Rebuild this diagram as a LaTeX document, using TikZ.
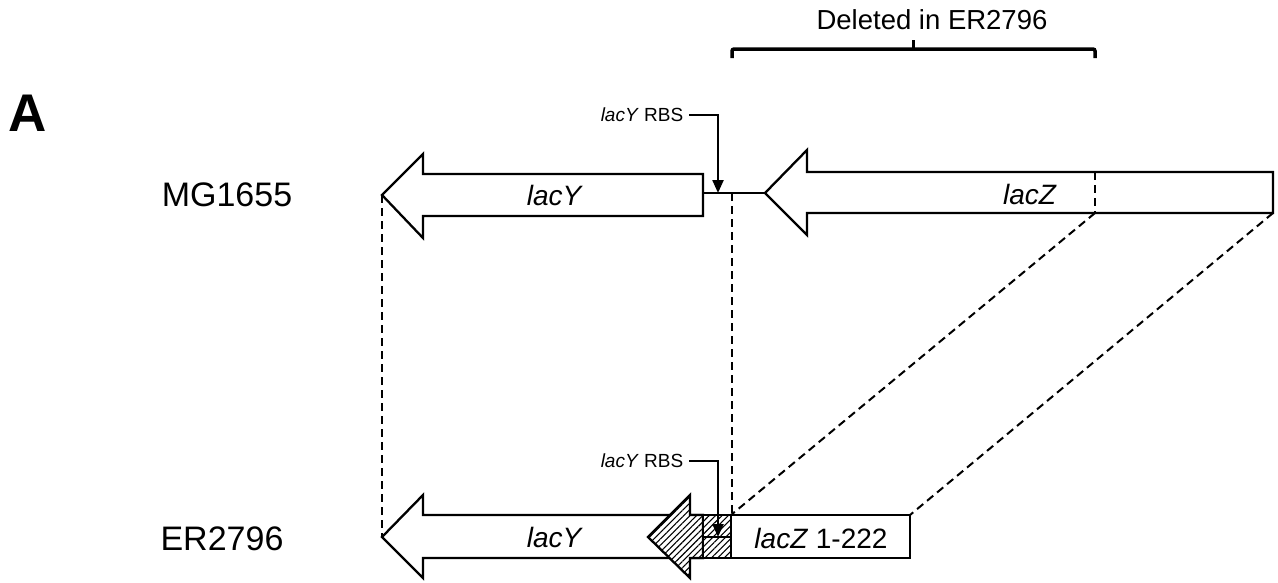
\documentclass[tikz,border=0pt]{standalone}
\usepackage{fontspec}
\setmainfont{Liberation Sans}
\usetikzlibrary{arrows.meta,patterns.meta}

\tikzset{
  gene/.style={draw,line width=2.3pt,fill=white,line join=miter},
  guide/.style={line width=2pt,dash pattern=on 8pt off 5pt},
  hatchbox/.style={draw,line width=2.3pt,fill=white,
    postaction={pattern={Lines[angle=45,distance=4.5pt,line width=1.1pt]}}},
  strain/.style={inner sep=0pt,font=\fontsize{34}{34}\selectfont},
  genename/.style={inner sep=0pt,font=\fontsize{28}{28}\selectfont},
  rbslbl/.style={inner sep=0pt,font=\fontsize{19}{19}\selectfont},
}

\begin{document}
\begin{tikzpicture}[x=1pt,y=-1pt,>={Triangle[length=13pt,width=11pt]}]
\useasboundingbox (0,0) rectangle (1278,582);
%Chu A
\node[inner sep=0pt,font=\fontsize{53}{53}\selectfont\bfseries] (panel) at (28,113) {A};
%Ten chung
\node[strain] (mg) at (227,195) {MG1655};
\node[strain] (er) at (222,539) {ER2796};
%Ngoac tren
\coordinate (brL) at (732,58);
\coordinate (brR) at (1095,58);
\coordinate (brM) at (913,49);
\draw[line width=3.5pt,rounded corners=2pt] (brL) -- (732,49) -- (1095,49) -- (brR);
\draw[line width=3pt] (brM) -- (913,40);
\node[inner sep=0pt,font=\fontsize{27.5}{27.5}\selectfont] (del) at (932,20) {Deleted in ER2796};
%Hang 1: lacY
\coordinate (yTipA) at (382,195);
\draw[gene] (yTipA) -- (423,154) -- (423,174) -- (703,174) -- (703,216) -- (423,216) -- (423,238) -- cycle;
\node[genename] (lacYA) at (555,195) {\textit{lacY}};
%Hang 1: lacZ
\coordinate (yEndA) at (703,193);
\coordinate (zTipA) at (765,193);
\draw[line width=2.3pt] (yEndA) -- (zTipA);
\draw[gene] (zTipA) -- (807,150) -- (807,172) -- (1273,172) -- (1273,213) -- (807,213) -- (807,235) -- cycle;
\coordinate (zCut) at (1095,213);
\coordinate (zEnd) at (1273,213);
\draw[guide] (1095,172) -- (zCut);
\node[genename] (lacZA) at (1030,194) {\textit{lacZ}};
%RBS 1
\coordinate (rbsTipA) at (718,193);
\node[rbslbl] (rbsA) at (642,115) {\textit{lacY} RBS};
\draw[->,line width=2.3pt] ([xshift=6pt]rbsA.east) -| (rbsTipA);
%Hang 2: lacY
\coordinate (yTipB) at (382,537);
\draw[gene] (yTipB) -- (423,495) -- (423,515) -- (703,515) -- (703,558) -- (423,558) -- (423,578) -- cycle;
\node[genename] (lacYB) at (555,537) {\textit{lacY}};
%Hang 2: phan gach cheo
\draw[hatchbox] (703,515) -- (690,515) -- (690,495) -- (648,537) -- (690,578) -- (690,558) -- (703,558) -- cycle;
\draw[hatchbox] (703,515) rectangle (731,558);
\draw[line width=2.3pt] (703,537) -- (731,537);
%Hang 2: lacZ 1-222
\coordinate (zTipB) at (731,515);
\coordinate (zEndB) at (910,515);
\draw[gene] (zTipB) rectangle (910,558);
\node[genename] (lacZB) at (821,538) {\textit{lacZ} 1-222};
%RBS 2
\coordinate (rbsTipB) at (718,537);
\node[rbslbl] (rbsB) at (642,461) {\textit{lacY} RBS};
\draw[->,line width=2.3pt] ([xshift=6pt]rbsB.east) -| (rbsTipB);
%Duong noi
\draw[guide] (yTipA) -- (yTipB);
\draw[guide] (732,193) -- (732,515);
\draw[guide] (zCut) -- (zTipB);
\draw[guide] (zEnd) -- (zEndB);
\end{tikzpicture}
\end{document}
